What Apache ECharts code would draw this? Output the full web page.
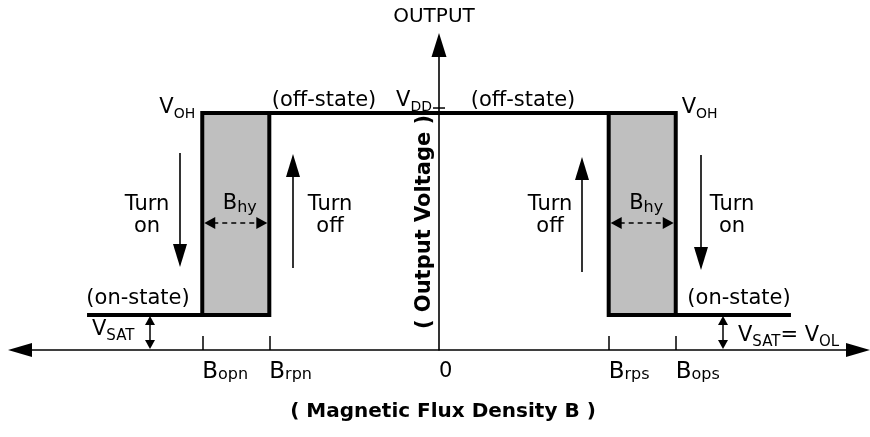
<!DOCTYPE html>
<html><head><meta charset="utf-8">
<script src="https://cdn.jsdelivr.net/npm/echarts@6/dist/echarts.min.js"></script>
<style>html,body{margin:0;padding:0;background:#fff}#c{width:870px;height:437px}</style>
</head><body><div id="c"></div>
<script>
// ---------------- data ----------------
const xRange = [-100, 100];          // magnetic flux density (arbitrary units)
const yRange = [0, 100];             // output voltage (arbitrary units)
const switchPoints = [-56.5, -40.5, 40.5, 56.5];   // Bopn, Brpn, Brps, Bops
const tickLabelValues = [-56.5, -40.5, 0, 40.5, 56.5];
const tickLabelMain = ['B', 'B', '0', 'B', 'B'];
const tickLabelSub = ['opn', 'rpn', '', 'rps', 'ops'];
const levelSat = 11.5;               // VSAT = VOL
const levelHigh = 77.7;              // VOH = VDD
const outerEnds = [-84, 84];
const pathLeft = [[-84, 11.5], [-40.5, 11.5], [-40.5, 77.7]];
const pathMain = [[-56.5, 11.5], [-56.5, 77.7], [56.5, 77.7], [56.5, 11.5], [84, 11.5]];
const pathRight = [[40.5, 77.7], [40.5, 11.5], [56.5, 11.5]];
const hystBands = [[-56.5, -40.5], [40.5, 56.5]];

// ---------------- chart ----------------
const FF = 'DejaVu Sans';
const chart = echarts.init(document.getElementById('c'), null, {renderer: 'canvas'});
const rich = {
  m: {fontFamily: FF, fontSize: 21, color: '#000'},
  bp: {fontFamily: FF, fontSize: 23, color: '#000', lineHeight: 24},
  z: {fontFamily: FF, fontSize: 21, color: '#000', lineHeight: 24},
  ts: {fontFamily: FF, fontSize: 16, color: '#000', padding: [5, 0, 0, 0]},
  s: {fontFamily: FF, fontSize: 14, color: '#000', padding: [14, 0, 0, 0]},
  s15: {fontFamily: FF, fontSize: 15, color: '#000', padding: [13, 0, 0, 0]},
  sh: {fontFamily: FF, fontSize: 16, color: '#000', padding: [8, 0, 0, 0]},
  e: {fontFamily: FF, fontSize: 21, color: '#000'}
};
const lineStyle = {color: '#000', width: 4, join: 'miter', cap: 'butt'};

chart.setOption({
  animation: false,
  backgroundColor: '#fff',
  grid: {left: 20, right: 12, top: 45, bottom: 87, outerBoundsMode: 'none', containLabel: false},
  xAxis: {
    type: 'value', min: xRange[0], max: xRange[1],
    splitLine: {show: false},
    axisLine: {show: true, onZero: false, symbol: ['triangle', 'triangle'], symbolSize: [14, 24],
      lineStyle: {color: '#000', width: 1.6}},
    axisTick: {show: true, inside: true, length: 14, customValues: switchPoints,
      lineStyle: {color: '#000', width: 1.5}},
    axisLabel: {
      show: true, margin: 10, hideOverlap: false, align: 'left',
      customValues: tickLabelValues, rich: rich,
      formatter: function (v) {
        const i = tickLabelValues.indexOf(v);
        if (i < 0) return '';
        if (!tickLabelSub[i]) return '{z|' + tickLabelMain[i] + '}';
        return '{bp|' + tickLabelMain[i] + '}{ts|' + tickLabelSub[i] + '}';
      }
    }
  },
  yAxis: {
    type: 'value', min: yRange[0], max: yRange[1],
    splitLine: {show: false},
    axisLine: {show: true, onZero: true, symbol: ['none', 'triangle'], symbolSize: [15, 24],
      lineStyle: {color: '#000', width: 1.6}},
    axisTick: {show: false},
    axisLabel: {show: false}
  },
  series: [
    {type: 'line', data: [], z: 1, silent: true,
      markArea: {silent: true, itemStyle: {color: '#bfbfbf'},
        data: hystBands.map(b => [{coord: [b[0], levelSat]}, {coord: [b[1], levelHigh]}])}},
    {type: 'line', data: pathLeft, symbol: 'none', lineStyle: lineStyle, z: 3, silent: true},
    {type: 'line', data: pathMain, symbol: 'none', lineStyle: lineStyle, z: 3, silent: true},
    {type: 'line', data: pathRight, symbol: 'none', lineStyle: lineStyle, z: 3, silent: true}
  ]
});

// ---------------- annotations ----------------
const P = (x, y) => chart.convertToPixel({gridIndex: 0}, [x, y]);
const g = [];
function txt(x, y, text, align, extra) {
  const el = {type: 'text', z: 10, silent: true,
    style: Object.assign({x: x, y: y, text: text, align: align || 'center', verticalAlign: 'middle',
      fontFamily: FF, fontSize: 21, fill: '#000', rich: rich}, extra || {})};
  g.push(el);
  return el;
}
function seg(x1, y1, x2, y2, w, dash) {
  g.push({type: 'line', z: 10, silent: true, shape: {x1, y1, x2, y2},
    style: {stroke: '#000', lineWidth: w || 1.5, lineDash: dash || null}});
}
function head(tipX, tipY, dx, dy, len, wid) {
  const bx = tipX - dx * len, by = tipY - dy * len;
  const px = -dy * wid / 2, py = dx * wid / 2;
  g.push({type: 'polygon', z: 11, silent: true,
    shape: {points: [[tipX, tipY], [bx + px, by + py], [bx - px, by - py]]},
    style: {fill: '#000'}});
}
function vArrow(x, yFrom, yTip) {
  const d = yTip > yFrom ? 1 : -1;
  seg(x, yFrom, x, yTip - d * 18, 1.6);
  head(x, yTip, 0, d, 23, 14);
}

const pAxis = P(0, 0);
const xb = switchPoints.map(v => P(v, 0)[0]);
const ySat = P(0, levelSat)[1], yAx = pAxis[1], yHi = P(0, levelHigh)[1];

txt(434, 17, 'OUTPUT', 'center', {fontSize: 20});
txt(432, 100.5, '{m|V}{s|DD}', 'right');
seg(pAxis[0] - 6, yHi - 5, pAxis[0] + 6, yHi - 5, 1.5);
txt(xb[0] - 7, 107.5, '{m|V}{s|OH}', 'right');
txt(xb[3] + 6, 107.5, '{m|V}{s|OH}', 'left');
txt(324, 101, '(off-state)');
txt(523, 101, '(off-state)');
txt((xb[0] + xb[1]) / 2 + 4, 203.5, '{m|B}{sh|hy}');
txt((xb[2] + xb[3]) / 2 + 4, 203.5, '{m|B}{sh|hy}');
[[xb[0], xb[1]], [xb[2], xb[3]]].forEach(function (p) {
  const a = p[0] + 2, b = p[1] - 2, y = 223;
  seg(a + 9, y, b - 9, y, 1.5, [5, 4]);
  head(a, y, -1, 0, 11, 12);
  head(b, y, 1, 0, 11, 12);
});
txt(147, 216, 'Turn\non', 'center', {lineHeight: 22});
txt(330, 216, 'Turn\noff', 'center', {lineHeight: 22});
txt(550, 216, 'Turn\noff', 'center', {lineHeight: 22});
txt(732, 216, 'Turn\non', 'center', {lineHeight: 22});
vArrow(180, 153, 267);
vArrow(293, 268, 154);
vArrow(582, 272, 157);
vArrow(701, 155, 270);
txt(138, 298.5, '(on-state)');
txt(739, 298.5, '(on-state)');
[150, 723].forEach(function (x) {
  seg(x, ySat + 6, x, yAx - 6, 1.5);
  head(x, ySat + 1, 0, -1, 9, 10);
  head(x, yAx - 1, 0, 1, 9, 10);
});
txt(92, 330, '{m|V}{s15|SAT}', 'left');
txt(738, 336, '{m|V}{s15|SAT}{e|= V}{s15|OL}', 'left');
const rot = txt(0, 0, '( Output Voltage )', 'center', {fontWeight: 'bold', fontSize: 21});
rot.rotation = Math.PI / 2; rot.x = 425; rot.y = 222;
txt(443, 412, '( Magnetic Flux Density B )', 'center', {fontWeight: 'bold', fontSize: 20});

chart.setOption({graphic: {elements: g}});
</script></body></html>
